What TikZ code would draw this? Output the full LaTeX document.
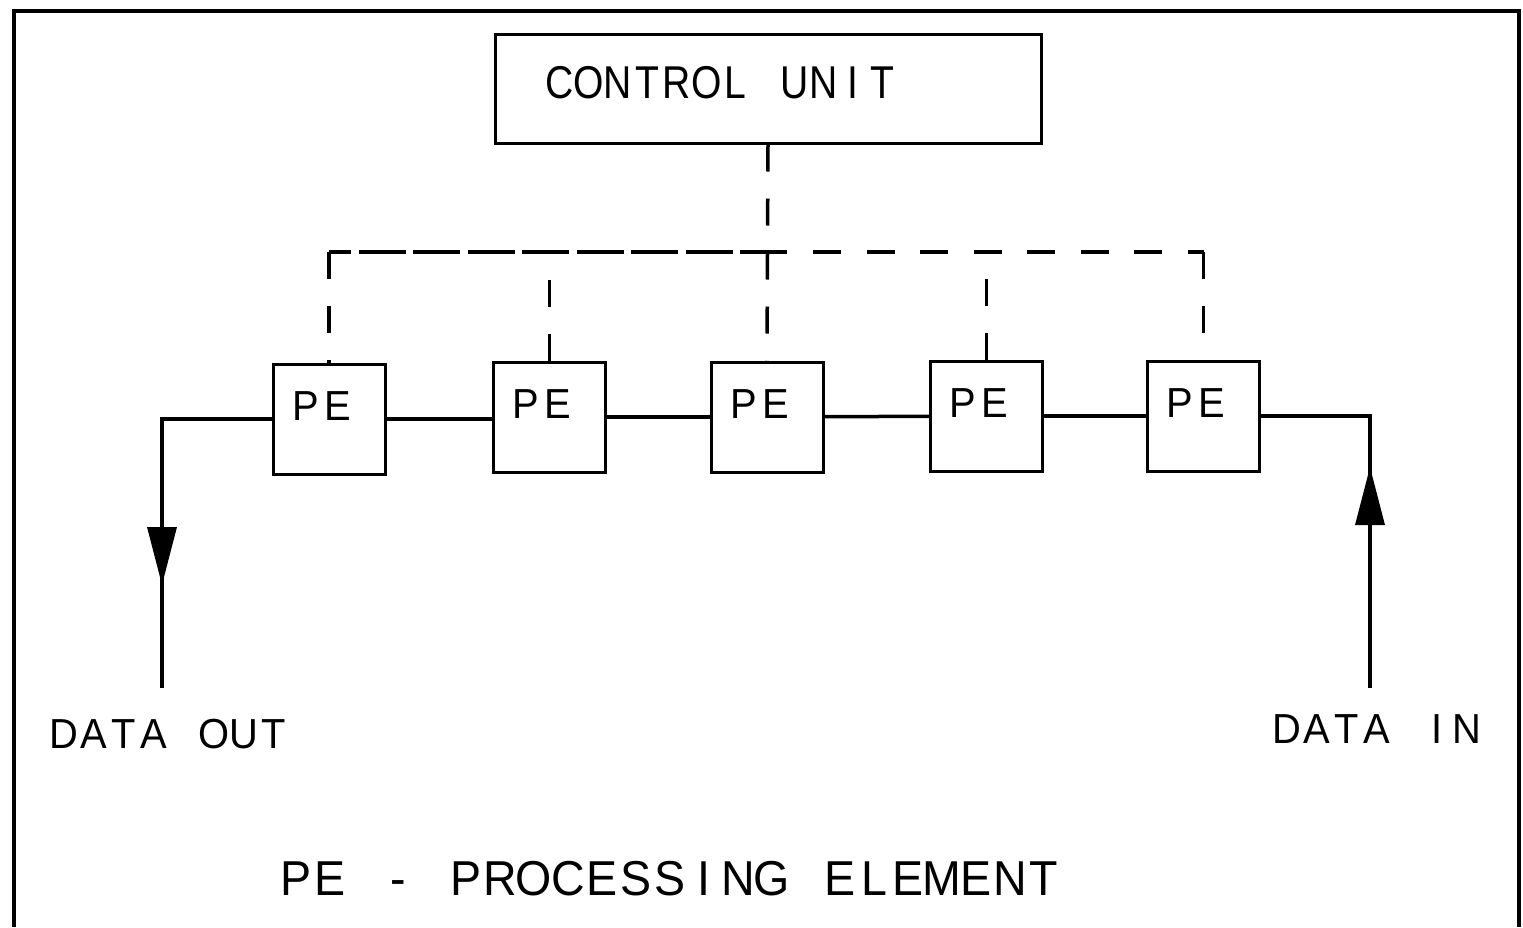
\documentclass[tikz,border=0pt]{standalone}
\usepackage{fontspec}
\setmainfont{Liberation Sans}
\newfontfamily\plotfont[FakeStretch=0.95]{Liberation Sans}
\newfontfamily\plotfontnarrow[FakeStretch=0.85]{Liberation Sans}
\usetikzlibrary{arrows.meta}

% fixed-pitch lettering: every character sits centred in a cell of width \cellpitch
\newlength\cellpitch
\def\cellrun#1{\cellrunA#1\relax}
\def\cellrunA#1{\ifx\relax#1\else\makebox[\cellpitch]{#1}\expandafter\cellrunA\fi}
\newcommand\plottext[3]{\fontsize{#1}{#1}\selectfont\setlength\cellpitch{#2}\cellrun{#3}}

\tikzset{
  frame/.style={line width=4.5pt, line join=miter},
  wire/.style={line width=3.5pt},
  ctrl/.style={line width=3.5pt, dash pattern=on 27pt off 27pt},
  buslong/.style={line width=3.5pt, dash pattern=on 47pt off 7.5pt},
  busshort/.style={line width=3.5pt, dash pattern=on 28pt off 25.5pt},
  pebox/.style={draw, line width=3pt, minimum width=112pt, minimum height=110pt, inner sep=0pt},
  cubox/.style={draw, line width=3pt, minimum width=546pt, minimum height=109pt, inner sep=0pt},
  lbl/.style={anchor=base, inner sep=0pt, font=\plotfont},
  flowtip/.style={-{Triangle[length=58pt,width=29pt]}}
}

\begin{document}
\begin{tikzpicture}[x=1pt, y=-1pt]
  \useasboundingbox (0,0) rectangle (1523,927);

  % outer frame, open at the bottom edge
  \draw[frame] (14,927) -- (14,11) -- (1519,11) -- (1519,927);

  % control unit
  \node[cubox] (cu) at (768,88.5) {};
  \node[lbl, font=\plotfontnarrow] (cutext) at (721,98) {\plottext{46pt}{29.4pt}{CONTROL~UNIT}};

  % processing elements
  \node[pebox] (pe1) at (329,419) {};
  \node[pebox] (pe2) at (549.5,417) {};
  \node[pebox] (pe3) at (767,417) {};
  \node[pebox] (pe4) at (986.5,416) {};
  \node[pebox] (pe5) at (1203.5,416) {};
  \foreach \i in {1,...,5}{
    \node[lbl] (pet\i) at ([shift={(-7.5,58)}]pe\i.north) {\plottext{42pt}{32pt}{PE}};
  }

  % control bus
  \coordinate (bus) at (0,252);
  \coordinate (busL) at (pe1.north |- bus);
  \coordinate (busR) at (pe5.north |- bus);
  \coordinate (busBreakL) at (787,252);
  \coordinate (busBreakR) at (813,252);
  \draw[buslong] (busBreakL) -- (busL);
  \draw[busshort] (busBreakR) -- (busR);
  \draw[ctrl] (cu.south) -- (pe3.north);
  \draw[ctrl] (busL) -- (pe1.north);
  \draw[ctrl] (busR) -- (pe5.north);
  \draw[ctrl] (pe2.north) -- (pe2.north |- bus);
  \draw[ctrl] (pe4.north) -- (pe4.north |- bus);

  % data path between neighbouring elements
  \draw[wire] (pe1.east) -- (pe2.west |- pe1.east);
  \draw[wire] (pe2) -- (pe3);
  \draw[wire] (pe3) -- (pe4);
  \draw[wire] (pe4) -- (pe5);

  % data out, on the left
  \coordinate (dataout) at (162,688);
  \coordinate (outtip) at (162,585);
  \draw[wire] (pe1.west) -- (pe1.west -| dataout) -- (dataout);
  \draw[wire, flowtip] (pe1.west -| dataout) -- (outtip);

  % data in, on the right
  \coordinate (datain) at (1370,688);
  \coordinate (intip) at (1370,467);
  \draw[wire] (datain) -- (datain |- pe5.east) -- (pe5.east);
  \draw[wire, flowtip] (datain) -- (intip);

  % captions
  \node[lbl] (outtext) at (169,748) {\plottext{42pt}{30pt}{DATA~OUT}};
  \node[lbl] (intext) at (1377,743) {\plottext{42pt}{30pt}{DATA~IN}};
  \node[lbl] (legend) at (670,895) {\plottext{49pt}{34pt}{PE~-~PROCESSING~ELEMENT}};
\end{tikzpicture}
\end{document}
